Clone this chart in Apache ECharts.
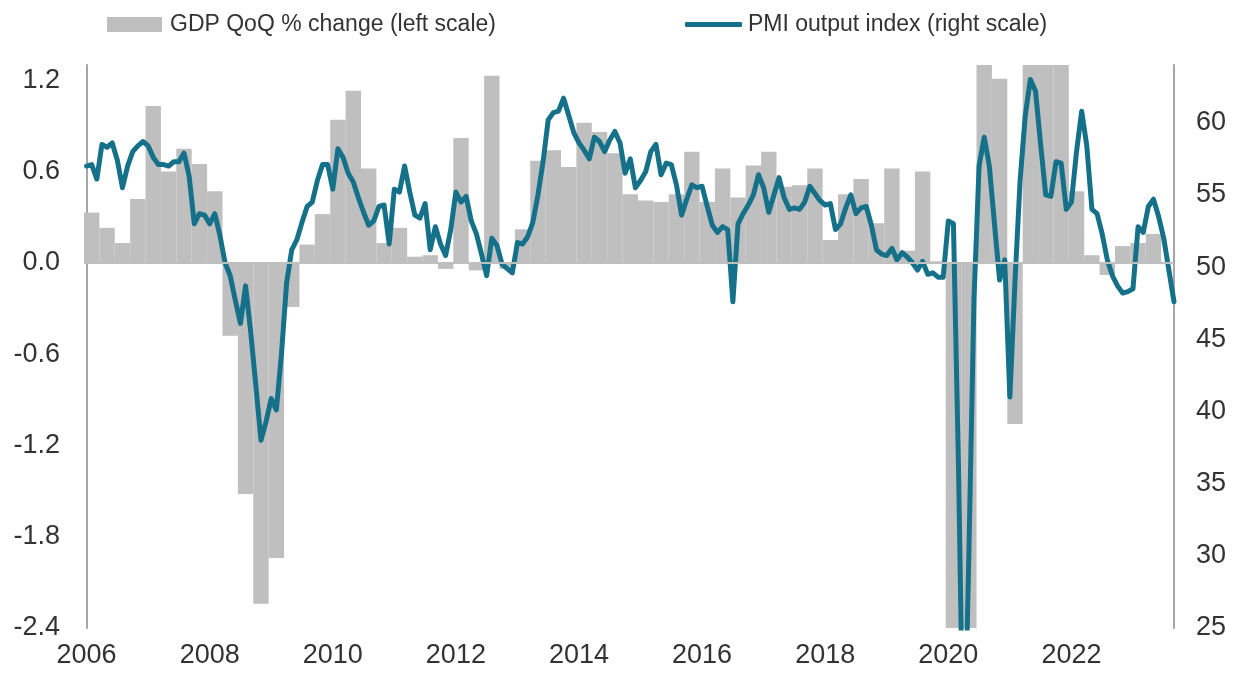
<!DOCTYPE html>
<html>
<head>
<meta charset="utf-8">
<script src="https://cdn.jsdelivr.net/npm/echarts@6/dist/echarts.min.js"></script>
<style>
html,body{margin:0;padding:0;background:#ffffff;}
#chart{width:1234px;height:675px;}
</style>
</head>
<body>
<div id="chart"></div>
<script>
// ---- Data ----
const startYear = 2006;
const yearTicks = [2006, 2008, 2010, 2012, 2014, 2016, 2018, 2020, 2022];

// GDP quarter-on-quarter % change, 2006 Q1 .. 2023 Q3 (left scale)
const gdpQoQ = [
  0.33, 0.23, 0.13, 0.42,
  1.03, 0.60, 0.75, 0.65,
  0.47, -0.48, -1.52, -2.24,
  -1.94, -0.29, 0.12, 0.32,
  0.94, 1.13, 0.62, 0.13,
  0.23, 0.04, 0.05, -0.04,
  0.82, -0.05, 1.23, -0.04,
  0.22, 0.67, 0.74, 0.63,
  0.92, 0.86, 0.72, 0.45,
  0.41, 0.40, 0.45, 0.73,
  0.40, 0.62, 0.43, 0.64,
  0.73, 0.50, 0.51, 0.62,
  0.15, 0.45, 0.55, 0.26,
  0.62, 0.08, 0.60, 0.01,
  -2.7, -20.3, 16.8, 1.21,
  -1.06, 6.5, 1.7, 1.5,
  0.47, 0.05, -0.08, 0.11,
  0.13, 0.19, null
];

// PMI output index, monthly Jan 2006 .. Sep 2023 (right scale)
const pmi2006 = [57.0, 57.1, 56.1, 58.5, 58.3, 58.6, 57.4, 55.5, 57.0, 58.0, 58.4, 58.7];
const pmi2007 = [58.4, 57.6, 57.1, 57.1, 57.0, 57.3, 57.3, 57.9, 56.3, 53.0, 53.7, 53.6];
const pmi2008 = [53.0, 53.7, 52.2, 50.3, 49.4, 47.7, 46.1, 48.7, 45.5, 41.8, 38.0, 39.3];
const pmi2009 = [40.9, 40.1, 44.0, 48.9, 51.2, 51.9, 53.1, 54.2, 54.5, 56.0, 57.1, 57.1];
const pmi2010 = [55.4, 58.2, 57.6, 56.5, 55.9, 54.8, 53.8, 52.9, 53.2, 54.2, 54.3, 51.6];
const pmi2011 = [55.4, 55.2, 57.0, 55.2, 53.6, 53.4, 54.4, 51.2, 52.8, 51.6, 50.8, 52.6];
const pmi2012 = [55.2, 54.5, 54.9, 53.2, 52.3, 50.9, 49.4, 52.0, 51.5, 50.2, 49.9, 49.6];
const pmi2013 = [51.7, 51.6, 52.1, 53.1, 55.0, 57.3, 60.2, 60.7, 60.8, 61.7, 60.5, 59.3];
const pmi2014 = [58.6, 58.1, 57.5, 59.0, 58.7, 58.0, 58.8, 59.4, 58.6, 56.5, 57.5, 55.5];
const pmi2015 = [56.0, 56.6, 58.0, 58.5, 56.4, 57.2, 57.1, 55.7, 53.6, 54.7, 55.7, 55.5];
const pmi2016 = [55.6, 54.2, 52.9, 52.4, 52.8, 52.6, 47.6, 53.0, 53.7, 54.3, 55.0, 56.4];
const pmi2017 = [55.5, 53.8, 55.0, 56.2, 54.8, 54.0, 54.1, 54.0, 54.5, 55.6, 55.1, 54.6];
const pmi2018 = [54.3, 54.4, 52.6, 53.0, 54.1, 55.0, 53.7, 54.1, 54.2, 52.9, 51.2, 50.9];
const pmi2019 = [50.8, 51.3, 50.5, 51.0, 50.7, 50.3, 49.8, 50.4, 49.5, 49.6, 49.3, 49.3];
const pmi2020 = [53.2, 53.0, 36.0, 13.8, 30.0, 47.7, 57.0, 59.0, 57.0, 53.0, 49.1, 50.5];
const pmi2021 = [41.0, 49.0, 56.0, 60.5, 63.0, 62.2, 58.5, 55.0, 54.9, 57.3, 57.2, 54.0];
const pmi2022 = [54.5, 58.0, 60.8, 58.4, 54.0, 53.7, 52.3, 50.5, 49.4, 48.7, 48.2, 48.3];
const pmi2023 = [48.5, 52.8, 52.4, 54.2, 54.7, 53.5, 52.0, 49.8, 47.6];

const pmiOutput = [].concat(pmi2006, pmi2007, pmi2008, pmi2009, pmi2010, pmi2011,
  pmi2012, pmi2013, pmi2014, pmi2015, pmi2016, pmi2017, pmi2018, pmi2019,
  pmi2020, pmi2021, pmi2022, pmi2023);

const gdpName = 'GDP QoQ % change (left scale)';
const pmiName = 'PMI output index (right scale)';

// ---- Build series data (x = months since Jan 2006) ----
const pmiData = pmiOutput.map((v, i) => [i, v]);
const gdpData = gdpQoQ.map((v, q) => [q * 3 + 1, v]);
const lastMonth = pmiOutput.length - 1;

const textColor = '#333333';
const font = 'Liberation Sans, Arial, sans-serif';
const lineColor = '#15718a';

const chart = echarts.init(document.getElementById('chart'), null, {renderer: 'canvas'});
chart.setOption({
  animation: false,
  backgroundColor: '#ffffff',
  textStyle: {fontFamily: font},
  legend: [
    {
      data: [{name: gdpName, icon: 'rect'}], left: 102, top: 8,
      itemWidth: 55, itemHeight: 15, itemGap: 10,
      textStyle: {fontSize: 23, color: textColor, fontFamily: font, padding: [0, 0, 0, 3]}
    },
    {
      data: [{name: pmiName, icon: 'roundRect'}], left: 680, top: 8,
      itemWidth: 57, itemHeight: 5, itemGap: 10,
      textStyle: {fontSize: 23, color: textColor, fontFamily: font, padding: [0, 0, 0, 1]}
    }
  ],
  grid: {left: 84, right: 60, top: 65, bottom: 47, containLabel: false},
  xAxis: {
    type: 'value',
    min: -0.5,
    max: lastMonth,
    axisLine: {show: false},
    axisTick: {show: false},
    splitLine: {show: false},
    axisLabel: {
      customValues: yearTicks.map(y => (y - startYear) * 12),
      formatter: v => String(startYear + Math.round(v / 12)),
      fontSize: 27, color: textColor, margin: 14, fontFamily: font
    }
  },
  yAxis: [
    {
      type: 'value', min: -2.4, max: 1.3, interval: 0.6,
      axisLine: {show: true, lineStyle: {color: '#a6a6a6', width: 2}},
      axisTick: {show: false},
      splitLine: {show: false},
      axisLabel: {
        showMaxLabel: false, fontSize: 27, color: textColor, margin: 24, fontFamily: font,
        formatter: v => (Math.abs(v) < 1e-9 ? 0 : v).toFixed(1)
      }
    },
    {
      type: 'value', min: 25, max: 64, interval: 5, position: 'right',
      axisLine: {show: true, lineStyle: {color: '#a6a6a6', width: 2}},
      axisTick: {show: false},
      splitLine: {show: false},
      axisLabel: {showMaxLabel: false, fontSize: 27, color: textColor, margin: 22, fontFamily: font}
    }
  ],
  series: [
    {
      name: gdpName,
      type: 'bar',
      yAxisIndex: 0,
      data: gdpData,
      clip: true,
      barWidth: '100%',
      itemStyle: {color: '#bfbfbf'},
      emphasis: {disabled: true},
      z: 1,
      markLine: {
        silent: true, symbol: 'none', label: {show: false},
        lineStyle: {color: '#bfbfbf', width: 2, type: 'solid'},
        data: [{yAxis: 0}]
      }
    },
    {
      name: pmiName,
      type: 'line',
      yAxisIndex: 1,
      data: pmiData,
      clip: true,
      symbol: 'none',
      smooth: false,
      lineStyle: {color: lineColor, width: 5, join: 'round', cap: 'round'},
      itemStyle: {color: lineColor},
      emphasis: {disabled: true},
      z: 3
    }
  ]
});
</script>
</body>
</html>
